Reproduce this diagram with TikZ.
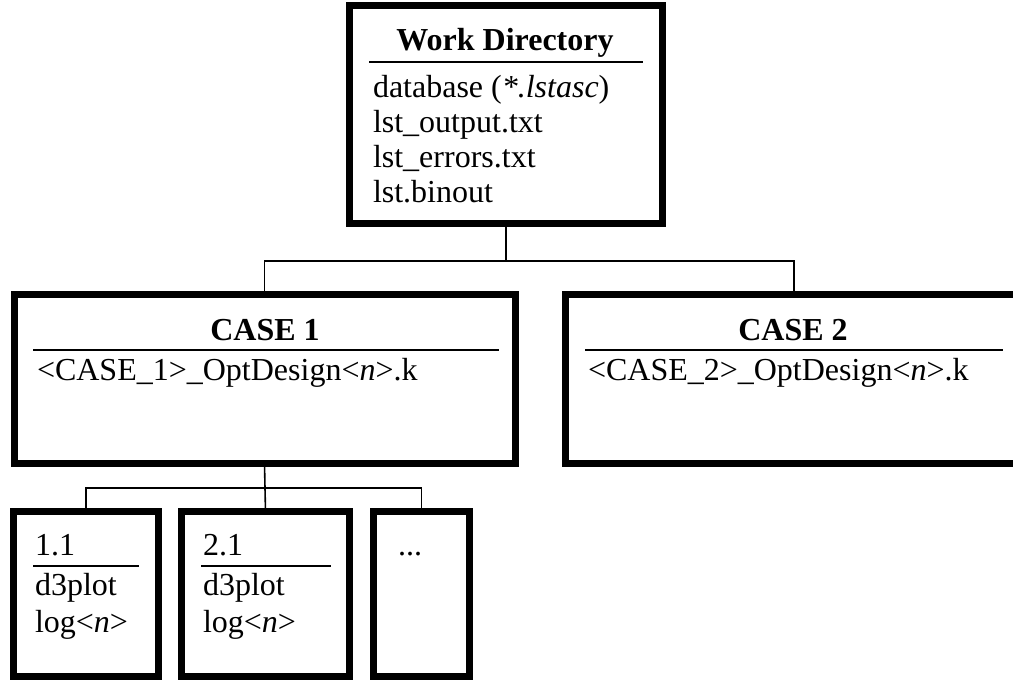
\documentclass[tikz,border=0pt]{standalone}
\usepackage{fontspec}
\setmainfont{Liberation Serif}
\begin{document}
\begin{tikzpicture}[x=1pt,y=-1pt,
  box/.style={draw, rectangle, line width=7pt, inner sep=0pt, outer sep=0pt},
  conn/.style={draw, line width=1.6pt},
  rule/.style={line width=1.8pt},
  txt/.style={inner sep=0pt, outer sep=0pt, font=\fontsize{32}{36}\selectfont},
  ttl/.style={txt, anchor=base, font=\fontsize{32}{36}\selectfont\bfseries}]
\useasboundingbox (0,0) rectangle (1013,680);
% boxes
\node[box, minimum width=313pt, minimum height=218pt] (wd) at (506,114.5) {};
\node[box, minimum width=501pt, minimum height=169pt] (case1) at (264.5,379) {};
\node[box, minimum width=490pt, minimum height=169pt] (case2) at (810.5,379) {};
\node[box, minimum width=145pt, minimum height=165pt] (b1) at (86,594) {};
\node[box, minimum width=168pt, minimum height=165pt] (b2) at (265.5,594) {};
\node[box, minimum width=96pt, minimum height=165pt] (b3) at (421.5,594) {};
% connectors
\coordinate (j1) at (506,261);
\coordinate (j2) at (265,488);
\coordinate (c2top) at (794,0);
\draw[conn] (wd.south) -- (j1);
\draw[conn] (case1.north) |- (j1) -| (c2top |- case2.north);
\draw[conn] (case1.south) -- (j2);
\draw[conn] (b1.north) |- (j2) -| (b3.north);
\draw[conn] (j2) -- (b2.north);
% Work Directory
\node[ttl] (wdt) at (505,50) {Work Directory};
\draw[rule] (369,62) -- (643,62);
\node[txt, anchor=base west] (wd1) at (373,97) {database (\textit{*.lstasc})};
\node[txt, anchor=base west] (wd2) at (373,132) {lst\_output.txt};
\node[txt, anchor=base west] (wd3) at (373,167) {lst\_errors.txt};
\node[txt, anchor=base west] (wd4) at (373,202) {lst.binout};
% CASE 1
\node[ttl] (c1t) at (265,340) {CASE 1};
\draw[rule] (33,350) -- (499,350);
\node[txt, anchor=base west] (c1a) at (37,380) {<CASE\_1>\_OptDesign<\textit{n}>.k};
% CASE 2
\node[ttl] (c2t) at (793,340) {CASE 2};
\draw[rule] (585,350) -- (1003,350);
\node[txt, anchor=base west] (c2a) at (588,380) {<CASE\_2>\_OptDesign<\textit{n}>.k};
% sub boxes
\node[txt, anchor=base west] (b1t) at (35,555) {1.1};
\draw[rule] (33,566) -- (139,566);
\node[txt, anchor=base west] (b1a) at (35,595) {d3plot};
\node[txt, anchor=base west] (b1b) at (35,632) {log<\textit{n}>};
\node[txt, anchor=base west] (b2t) at (203,555) {2.1};
\draw[rule] (201,566) -- (331,566);
\node[txt, anchor=base west] (b2a) at (203,595) {d3plot};
\node[txt, anchor=base west] (b2b) at (203,632) {log<\textit{n}>};
\node[txt, anchor=base] (b3t) at (410,555) {...};
\end{tikzpicture}
\end{document}
